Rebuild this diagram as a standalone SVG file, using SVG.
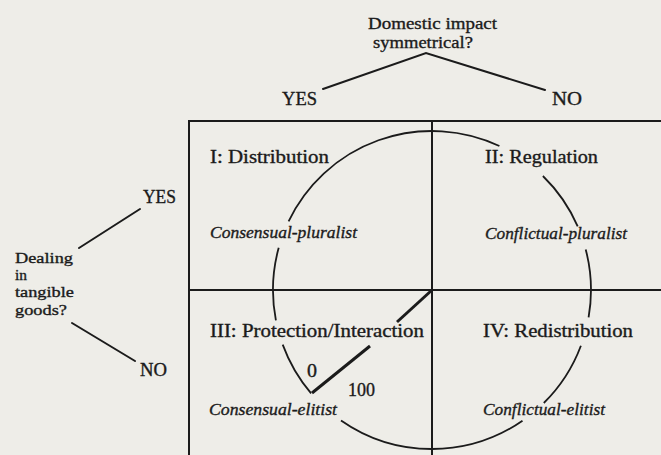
<svg xmlns="http://www.w3.org/2000/svg" width="661" height="455" viewBox="0 0 661 455">
  <style>
    .lbl { font-family: "Liberation Serif", "Times New Roman", serif; fill: #1b1b1b; stroke: #1b1b1b; stroke-width: 0.35; }
    .head { font-size: 18px; }
    .small { font-size: 17px; }
    .stack { font-size: 15px; }
    .ital { font-size: 17px; font-style: italic; }
    .frame { stroke: #1b1b1b; stroke-width: 2; fill: none; }
    .branch { stroke: #1b1b1b; stroke-width: 2; fill: none; stroke-linecap: round; }
    .ring { stroke: #1b1b1b; stroke-width: 1.8; fill: none; }
    .radius { stroke: #1b1b1b; stroke-width: 3; fill: none; }
  </style>
  <rect width="661" height="455" fill="#eeede8"/>

  <!-- 2x2 matrix frame (continues past the right and bottom edges) -->
  <g id="matrix">
    <path class="frame" d="M189 455 V121 H661"/>
    <path class="frame" d="M432 121 V455"/>
    <path class="frame" d="M189 290 H661" stroke="#1c2e1c"/>
  </g>

  <!-- Question nodes -->
  <g id="q-domestic">
    <text class="lbl small" x="368" y="29" textLength="129" lengthAdjust="spacingAndGlyphs">Domestic impact</text>
    <text class="lbl small" x="373" y="48" textLength="100" lengthAdjust="spacingAndGlyphs">symmetrical?</text>
  </g>
  <g id="ans-top-yes"><text class="lbl head" x="282" y="105" textLength="35" lengthAdjust="spacingAndGlyphs">YES</text></g>
  <g id="ans-top-no"><text class="lbl head" x="552" y="105" textLength="30" lengthAdjust="spacingAndGlyphs">NO</text></g>

  <g id="q-tangible">
    <text class="lbl stack" x="15" y="263" textLength="58" lengthAdjust="spacingAndGlyphs">Dealing</text>
    <text class="lbl stack" x="15" y="280" textLength="12" lengthAdjust="spacingAndGlyphs">in</text>
    <text class="lbl stack" x="15" y="297" textLength="59" lengthAdjust="spacingAndGlyphs">tangible</text>
    <text class="lbl stack" x="15" y="315" textLength="52" lengthAdjust="spacingAndGlyphs">goods?</text>
  </g>
  <g id="ans-left-yes"><text class="lbl head" x="143" y="203" textLength="33" lengthAdjust="spacingAndGlyphs">YES</text></g>
  <g id="ans-left-no"><text class="lbl head" x="140" y="376" textLength="27" lengthAdjust="spacingAndGlyphs">NO</text></g>

  <!-- Quadrants -->
  <g id="quad-1">
    <text class="lbl head" x="210" y="163" textLength="119" lengthAdjust="spacingAndGlyphs">I: Distribution</text>
    <text class="lbl ital" x="210" y="238" textLength="147" lengthAdjust="spacingAndGlyphs">Consensual-pluralist</text>
  </g>
  <g id="quad-2">
    <text class="lbl head" x="485" y="163" textLength="113" lengthAdjust="spacingAndGlyphs">II: Regulation</text>
    <text class="lbl ital" x="485" y="239" textLength="142" lengthAdjust="spacingAndGlyphs">Conflictual-pluralist</text>
  </g>
  <g id="quad-3">
    <text class="lbl head" x="210" y="337" textLength="214" lengthAdjust="spacingAndGlyphs">III: Protection/Interaction</text>
    <text class="lbl ital" x="209" y="415" textLength="128" lengthAdjust="spacingAndGlyphs">Consensual-elitist</text>
  </g>
  <g id="quad-4">
    <text class="lbl head" x="483" y="337" textLength="150" lengthAdjust="spacingAndGlyphs">IV: Redistribution</text>
    <text class="lbl ital" x="483" y="415" textLength="122" lengthAdjust="spacingAndGlyphs">Conflictual-elitist</text>
  </g>

  <!-- Scale on the radius -->
  <g id="scale">
    <text class="lbl head" x="307" y="377" textLength="10" lengthAdjust="spacingAndGlyphs">0</text>
    <text class="lbl head" x="348" y="396" textLength="27" lengthAdjust="spacingAndGlyphs">100</text>
  </g>

  <!-- Connectors: decision branches, circle, radius -->
  <g id="connectors">
    <path class="branch" d="M323 89 L426 53 L545 90"/>
    <path class="branch" d="M79 248 L140 209"/>
    <path class="branch" d="M72 323 L135 361"/>

    <path class="ring" d="M288.6 221.3 A159 159 0 0 1 499.4 146.0"/>
    <path class="ring" d="M542.9 176.0 A159 159 0 0 1 577.7 226.4"/>
    <path class="ring" d="M585.7 249.4 A159 159 0 0 1 588.6 317.3"/>
    <path class="ring" d="M580.9 345.7 A159 159 0 0 1 543.8 403.0"/>
    <path class="ring" d="M522.5 420.7 A159 159 0 0 1 341.0 420.4"/>
    <path class="ring" d="M311.1 393.3 A159 159 0 0 1 282.7 344.6"/>
    <path class="ring" d="M275.9 320.3 A159 159 0 0 1 278.7 247.8"/>

    <path class="radius" d="M432 290 L397 322"/>
    <path class="radius" d="M370 346 L312 393"/>
  </g>
</svg>
